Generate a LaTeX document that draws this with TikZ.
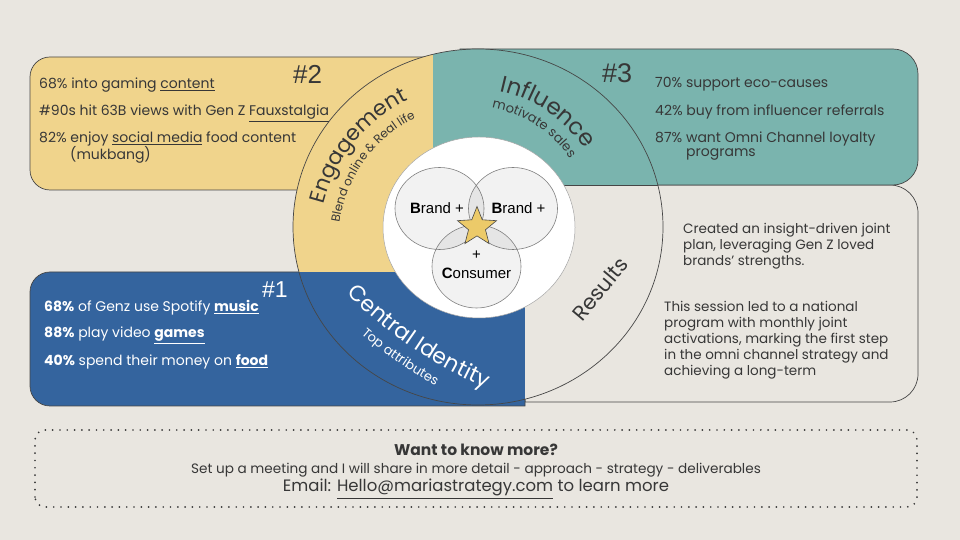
\documentclass[tikz,border=0pt]{standalone}
\usepackage{fontspec}
\setmainfont{Poppins}
\newfontfamily\arialf{Liberation Sans}
\usetikzlibrary{decorations.text,shapes.geometric}

\definecolor{bgc}{RGB}{233,230,224}
\definecolor{yel}{RGB}{240,212,140}
\definecolor{tea}{RGB}{122,180,174}
\definecolor{blu}{RGB}{52,100,158}
\definecolor{ink}{RGB}{55,55,55}
\definecolor{edge}{RGB}{70,70,70}
\definecolor{starc}{RGB}{236,202,105}

\begin{document}
\begin{tikzpicture}[x=1pt,y=1pt,
  boxline/.style={draw=edge, line width=0.7pt},
  bodytext/.style={anchor=base west, inner sep=0pt, font=\fontsize{14}{16}\selectfont, text=ink},
  whitetext/.style={bodytext, text=white},
  restext/.style={anchor=base west, inner sep=0pt, font=\fontsize{13.5}{16}\selectfont, text=ink},
  hashnum/.style={anchor=base west, inner sep=0pt, font=\arialf\fontsize{26}{26}\selectfont, text=ink},
  venn/.style={fill=black, fill opacity=0.05, draw=gray, draw opacity=1, line width=0.6pt},
  venntext/.style={anchor=base, inner sep=0pt, font=\arialf\fontsize{15}{15}\selectfont, text=black},
  bottomtext/.style={anchor=base, inner sep=0pt, text=ink},
  dotborder/.style={draw=ink, line width=1.9pt, line cap=round, dash pattern=on 0pt off 7.3pt, rounded corners=10pt}
]
\useasboundingbox (0,0) rectangle (960,540);
\fill[bgc] (0,0) rectangle (960,540);

% Results box
\path[boxline, fill=bgc] (525,355) -- (890,355) arc[start angle=90, end angle=0, radius=28] -- (918,166) arc[start angle=0, end angle=-90, radius=28] -- (525,138) -- cycle;
% Teal box
\path[boxline, fill=tea] (460,491) -- (893,491) arc[start angle=90, end angle=0, radius=25] -- (918,380) arc[start angle=0, end angle=-90, radius=25] -- (460,355) -- cycle;
% Yellow box
\path[boxline, fill=yel] (433,483) -- (50,483) arc[start angle=90, end angle=180, radius=20] -- (30,370) arc[start angle=180, end angle=270, radius=20] -- (433,350) -- cycle;
% Blue box
\path[boxline, fill=blu] (525,268) -- (50,268) arc[start angle=90, end angle=180, radius=20] -- (30,154) arc[start angle=180, end angle=270, radius=20] -- (525,134) -- cycle;

% Big circle quadrants
\begin{scope}
\clip (478,313) ellipse[x radius=185, y radius=178];
\fill[yel] (250,268) rectangle (433,540);
\fill[tea] (433,355) rectangle (700,540);
\fill[blu] (250,0) rectangle (525,268);
\fill[bgc] (525,0) rectangle (700,355);
\draw[edge, line width=0.7pt] (525,355) -- (700,355);
\end{scope}
\draw[edge, line width=0.7pt] (478,313) ellipse[x radius=185, y radius=178];

% White circle and Venn
\draw[fill=white, draw=gray!70, line width=0.5pt] (479,312.5) ellipse[x radius=96, y radius=90.5];
\path[venn] (439.5,331.5) ellipse[x radius=44.5, y radius=41];
\path[venn] (513,331.5) ellipse[x radius=44.5, y radius=41];
\path[venn] (476.5,273.5) ellipse[x radius=44.5, y radius=41.5];
\node[star, star points=5, star point ratio=2.3, minimum size=41pt, inner sep=0pt, fill=starc, draw=edge, line width=0.6pt] (star) at (477,313) {};
\node[venntext] (b1) at (437,326) {\textbf{B}rand +};
\node[venntext] (b2) at (518.5,326) {\textbf{B}rand +};
\node[venntext] (plus) at (476.5,280.5) {+};
\node[venntext] (cons) at (476.5,261) {\textbf{C}onsumer};

% Curved labels
\path[decorate, decoration={text along path, text align=center, text color=ink,
  text={|\fontsize{21.5}{21.5}\selectfont|Engagement}}, shift={(478,297)}]
  (186:159) arc[start angle=186, end angle=96, radius=159];
\path[decorate, decoration={text along path, text align=center, text color=ink,
  text={|\fontsize{12}{12}\selectfont|Blend online {\&} Real life}}, shift={(478,297)}]
  (189:140) arc[start angle=189, end angle=99, radius=140];
\path[decorate, decoration={text along path, text align=center, text color=ink,
  text={|\fontsize{23}{23}\selectfont|Influence}}, shift={(470,313)}]
  (101:139) arc[start angle=101, end angle=11, radius=139];
\path[decorate, decoration={text along path, text align=center, text color=ink,
  text={|\fontsize{13}{13}\selectfont|motivate sales}}, shift={(470,313)}]
  (102:121) arc[start angle=102, end angle=12, radius=121];
\path[decorate, decoration={text along path, text align=center, text color=white,
  text={|\fontsize{22}{22}\selectfont|Central Identity}}, shift={(668.5,570.6)}]
  (205.8:457) arc[start angle=205.8, end angle=265.8, radius=457];
\path[decorate, decoration={text along path, text align=center, text color=white,
  text={|\fontsize{13}{13}\selectfont|Top attributes}}, shift={(668.5,570.6)}]
  (205.3:477) arc[start angle=205.3, end angle=265.3, radius=477];
\node[rotate=50, inner sep=0pt, font=\fontsize{21}{21}\selectfont, text=ink] (res) at (600,251) {Results};

% Hash numbers
\node[hashnum] (h2) at (293,456) {\#2};
\node[hashnum, font=\arialf\fontsize{27}{27}\selectfont] (h3) at (602,457) {\#3};
\node[hashnum, font=\arialf\fontsize{23}{23}\selectfont, text=white] (h1) at (262,242) {\#1};

% Yellow texts
\node[bodytext] (y1) at (39,451) {68\% into gaming \underline{content}};
\node[bodytext] (y2) at (39,424) {\#90s hit 63B views with Gen Z \underline{Fauxstalgia}};
\node[bodytext] (y3) at (39,397) {82\% enjoy \underline{social media} food content};
\node[bodytext] (y4) at (70,380) {(mukbang)};

% Teal texts
\node[bodytext] (t1) at (655,452) {70\% support eco-causes};
\node[bodytext] (t2) at (655,424) {42\% buy from influencer referrals};
\node[bodytext] (t3) at (655,397) {87\% want Omni Channel loyalty};
\node[bodytext] (t4) at (686,383) {programs};

% Blue texts
\node[whitetext] (u1) at (44,228) {\textbf{68\%} of Genz use Spotify \underline{\textbf{music}}};
\node[whitetext] (u2) at (44,202) {\textbf{88\%} play video \underline{\textbf{games}}};
\node[whitetext] (u3) at (44,174) {\textbf{40\%} spend their money on \underline{\textbf{food}}};

% Results texts
\node[restext] (r1) at (683,306) {Created an insight-driven joint};
\node[restext] (r2) at (683,290) {plan, leveraging Gen Z loved};
\node[restext] (r3) at (683,274) {brands' strengths.};
\node[restext] (r4) at (664,228) {This session led to a national};
\node[restext] (r5) at (664,212) {program with monthly joint};
\node[restext] (r6) at (664,196) {activations, marking the first step};
\node[restext] (r7) at (664,180) {in the omni channel strategy and};
\node[restext] (r8) at (664,164) {achieving a long-term};

% Bottom box
\draw[dotborder] (35,33) rectangle (917,110);
\node[bottomtext, font=\fontsize{15.5}{16}\selectfont\bfseries] (want) at (476,84) {Want to know more?};
\node[bottomtext, font=\fontsize{13.6}{14}\selectfont] (setup) at (476,66) {Set up a meeting and I will share in more detail - approach - strategy - deliverables};
\node[bottomtext, font=\fontsize{16.5}{17}\selectfont] (email) at (476,48) {Email: \underline{Hello@mariastrategy.com} to learn more};
\end{tikzpicture}
\end{document}
